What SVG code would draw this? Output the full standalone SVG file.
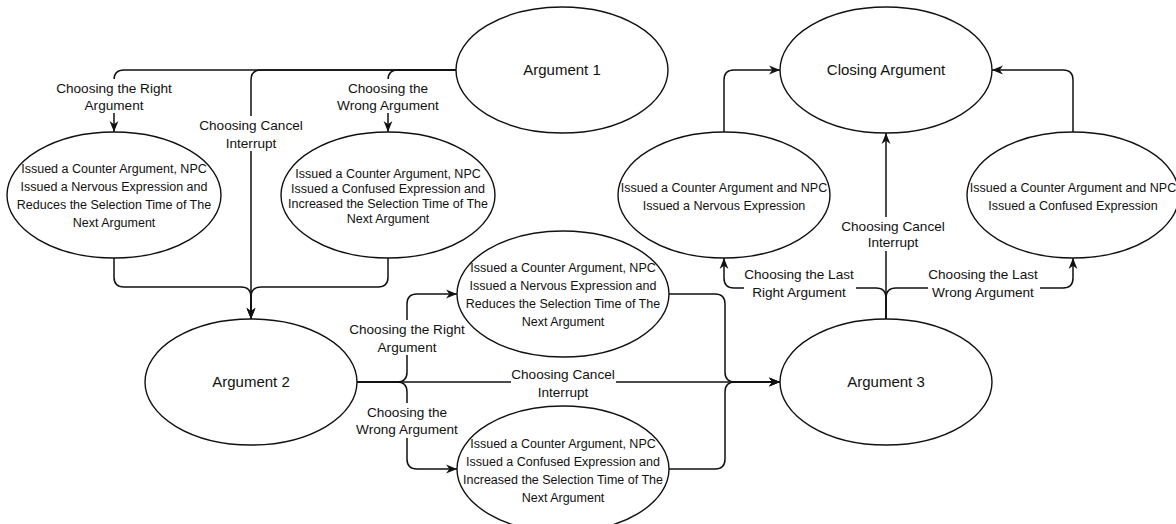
<svg xmlns="http://www.w3.org/2000/svg" width="1176" height="524" viewBox="0 0 1176 524">
<style>
.node ellipse{fill:#fff;stroke:#111;stroke-width:1.4}
.t{font-family:"Liberation Sans",Arial,sans-serif;fill:#111;text-anchor:middle}
.title{font-size:15px}
.body{font-size:12.5px}
.lbl{font-size:13.6px}
.edge{fill:none;stroke:#111;stroke-width:1.5}
.arr{marker-end:url(#ah)}
.bg{fill:#fff}
</style>
<defs>
<marker id="ah" viewBox="0 0 10 10" refX="10" refY="5" markerWidth="11" markerHeight="11" markerUnits="userSpaceOnUse" orient="auto">
<path d="M0,1 L10,5 L0,9 L3,5 Z" fill="#111"/>
</marker>
</defs>
<rect width="1176" height="524" fill="#fff"/>

<g id="connectors">
<!-- Argument 1 branches -->
<path class="edge arr" d="M456,70 H124 Q114,70 114,80 V132"/>
<path class="edge arr" d="M456,70 H261 Q251,70 251,80 V319"/>
<path class="edge arr" d="M456,70 H398 Q388,70 388,80 V132"/>
<!-- top ellipses to Argument 2 -->
<path class="edge arr" d="M114,258 V277 Q114,287 124,287 H241 Q251,287 251,297 V319"/>
<path class="edge arr" d="M388,258 V277 Q388,287 378,287 H261 Q251,287 251,297 V319"/>
<!-- Argument 2 branches -->
<path class="edge arr" d="M357,382 H397 Q407,382 407,372 V304 Q407,294 417,294 H457"/>
<path class="edge arr" d="M357,382 H397 Q407,382 407,392 V459 Q407,469 417,469 H457"/>
<path class="edge arr" d="M357,382 H780"/>
<!-- mid ellipses to Argument 3 -->
<path class="edge arr" d="M669,294 H715 Q725,294 725,304 V372 Q725,382 735,382 H780"/>
<path class="edge arr" d="M669,469 H715 Q725,469 725,459 V392 Q725,382 735,382 H780"/>
<!-- Argument 3 branches -->
<path class="edge arr" d="M886,319 V298 Q886,288 876,288 H734 Q724,288 724,278 V258"/>
<path class="edge arr" d="M886,319 V298 Q886,288 896,288 H1063 Q1073,288 1073,278 V258"/>
<path class="edge arr" d="M886,319 V133"/>
<!-- to Closing Argument -->
<path class="edge arr" d="M724,132 V80 Q724,70 734,70 H780"/>
<path class="edge arr" d="M1073,132 V80 Q1073,70 1063,70 H992"/>

<!-- labels -->
<g id="lbl-a1-right">
<rect class="bg" x="55" y="79" width="118" height="34"/>
<text class="t lbl" x="114" y="93">Choosing the Right</text>
<text class="t lbl" x="114" y="110">Argument</text>
</g>
<g id="lbl-a1-cancel">
<rect class="bg" x="198" y="116" width="106" height="35"/>
<text class="t lbl" x="251" y="130">Choosing Cancel</text>
<text class="t lbl" x="251" y="148">Interrupt</text>
</g>
<g id="lbl-a1-wrong">
<rect class="bg" x="336" y="79" width="105" height="34"/>
<text class="t lbl" x="388" y="93">Choosing the</text>
<text class="t lbl" x="388" y="110">Wrong Argument</text>
</g>
<g id="lbl-a2-right">
<rect class="bg" x="348" y="320" width="118" height="35"/>
<text class="t lbl" x="407" y="334">Choosing the Right</text>
<text class="t lbl" x="407" y="352">Argument</text>
</g>
<g id="lbl-a2-wrong">
<rect class="bg" x="355" y="403" width="105" height="35"/>
<text class="t lbl" x="407" y="417">Choosing the</text>
<text class="t lbl" x="407" y="434">Wrong Argument</text>
</g>
<g id="lbl-a2-cancel">
<rect class="bg" x="511" y="365" width="105" height="35"/>
<text class="t lbl" x="563" y="379">Choosing Cancel</text>
<text class="t lbl" x="563" y="397">Interrupt</text>
</g>
<g id="lbl-a3-right">
<rect class="bg" x="744" y="265" width="112" height="35"/>
<text class="t lbl" x="799" y="279">Choosing the Last</text>
<text class="t lbl" x="799" y="297">Right Argument</text>
</g>
<g id="lbl-a3-wrong">
<rect class="bg" x="928" y="265" width="112" height="35"/>
<text class="t lbl" x="983" y="279">Choosing the Last</text>
<text class="t lbl" x="983" y="297">Wrong Argument</text>
</g>
<g id="lbl-a3-cancel">
<rect class="bg" x="841" y="217" width="106" height="34"/>
<text class="t lbl" x="893" y="231">Choosing Cancel</text>
<text class="t lbl" x="893" y="247">Interrupt</text>
</g>
</g>

<g id="argument1" class="node">
<ellipse cx="562" cy="70" rx="106" ry="63"/>
<text class="t title" x="562" y="75">Argument 1</text>
</g>
<g id="closing" class="node">
<ellipse cx="886" cy="70" rx="106" ry="63"/>
<text class="t title" x="886" y="75">Closing Argument</text>
</g>
<g id="a1-right-result" class="node">
<ellipse cx="114" cy="195" rx="107" ry="63"/>
<text class="t body" x="114" y="172.5">Issued a Counter Argument, NPC</text>
<text class="t body" x="114" y="190.5">Issued a Nervous Expression and</text>
<text class="t body" x="114" y="208.5">Reduces the Selection Time of The</text>
<text class="t body" x="114" y="226.5">Next Argument</text>
</g>
<g id="a1-wrong-result" class="node">
<ellipse cx="388" cy="195" rx="107" ry="63"/>
<text class="t body" x="388" y="177.5">Issued a Counter Argument, NPC</text>
<text class="t body" x="388" y="192.5">Issued a Confused Expression and</text>
<text class="t body" x="388" y="207.5">Increased the Selection Time of The</text>
<text class="t body" x="388" y="222.5">Next Argument</text>
</g>
<g id="a3-right-result" class="node">
<ellipse cx="724" cy="195" rx="106" ry="63"/>
<text class="t body" x="724" y="191.5">Issued a Counter Argument and NPC</text>
<text class="t body" x="724" y="209.5">Issued a Nervous Expression</text>
</g>
<g id="a3-wrong-result" class="node">
<ellipse cx="1073" cy="195" rx="106" ry="63"/>
<text class="t body" x="1073" y="191.5">Issued a Counter Argument and NPC</text>
<text class="t body" x="1073" y="209.5">Issued a Confused Expression</text>
</g>
<g id="argument2" class="node">
<ellipse cx="251" cy="382" rx="106" ry="63"/>
<text class="t title" x="251" y="387">Argument 2</text>
</g>
<g id="a2-right-result" class="node">
<ellipse cx="563" cy="294" rx="106" ry="63"/>
<text class="t body" x="563" y="271.5">Issued a Counter Argument, NPC</text>
<text class="t body" x="563" y="289.5">Issued a Nervous Expression and</text>
<text class="t body" x="563" y="307.5">Reduces the Selection Time of The</text>
<text class="t body" x="563" y="325.5">Next Argument</text>
</g>
<g id="a2-wrong-result" class="node">
<ellipse cx="563" cy="469" rx="106" ry="63"/>
<text class="t body" x="563" y="447.5">Issued a Counter Argument, NPC</text>
<text class="t body" x="563" y="465.5">Issued a Confused Expression and</text>
<text class="t body" x="563" y="483.5">Increased the Selection Time of The</text>
<text class="t body" x="563" y="501.5">Next Argument</text>
</g>
<g id="argument3" class="node">
<ellipse cx="886" cy="382" rx="106" ry="63"/>
<text class="t title" x="886" y="387">Argument 3</text>
</g>
</svg>
